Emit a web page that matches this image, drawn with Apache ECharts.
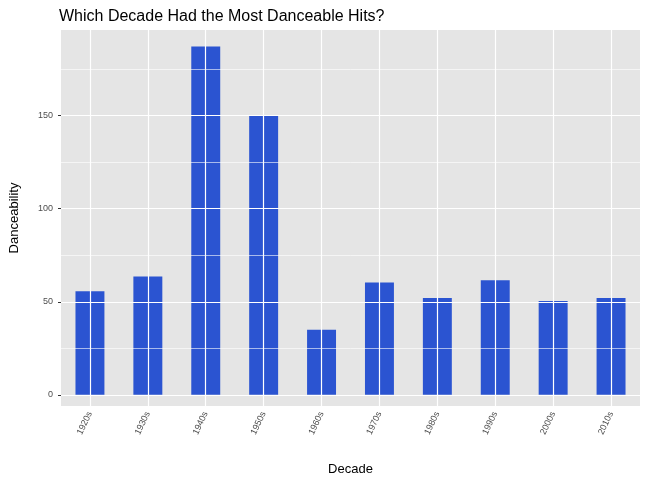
<!DOCTYPE html>
<html><head><meta charset="utf-8">
<script src="https://cdn.jsdelivr.net/npm/echarts@6/dist/echarts.min.js"></script>
<style>body{margin:0}#c{width:647px;height:481px}</style></head>
<body><div id="c"></div>
<script>
const categories=['1920s','1930s','1940s','1950s','1960s','1970s','1980s','1990s','2000s','2010s'];
const values=[55.7,63.6,187.2,150,35,60.4,52,61.5,50.4,52];
const majorTicks=[0,50,100,150];
const minorTicks=[25,75,125,175];
const ch=echarts.init(document.getElementById('c'));
const ls=(w)=>({color:'#fff',width:w,type:'solid'});
ch.setOption({
 animation:false,
 title:{text:'Which Decade Had the Most Danceable Hits?',left:54,top:4,textStyle:{fontSize:16,fontWeight:'normal',color:'#000',fontFamily:'Liberation Sans'}},
 grid:{left:60,right:7,top:30,bottom:71,show:true,backgroundColor:'#E5E5E5',borderWidth:0},
 xAxis:{type:'category',data:categories,boundaryGap:true,name:'Decade',nameLocation:'middle',nameGap:57,
  nameTextStyle:{fontSize:13,color:'#000',fontFamily:'Liberation Sans'},
  axisLine:{show:false},axisTick:{alignWithLabel:true,lineStyle:{color:'#333'},length:3},
  axisLabel:{rotate:65,fontSize:9,color:'#4d4d4d',margin:6,fontFamily:'Liberation Sans'},splitLine:{show:false}},
 yAxis:{type:'value',min:-6,max:196,name:'Danceability',nameLocation:'middle',nameGap:40,
  nameTextStyle:{fontSize:13,color:'#000',fontFamily:'Liberation Sans'},
  axisLine:{show:false},splitLine:{show:false},
  axisTick:{show:true,customValues:majorTicks,length:3,lineStyle:{color:'#333'}},
  axisLabel:{customValues:majorTicks,fontSize:9,color:'#4d4d4d',fontFamily:'Liberation Sans'}},
 series:[
  {type:'line',data:[],z:1,markLine:{silent:true,symbol:'none',label:{show:false},animation:false,
   data:[...majorTicks.map(v=>({yAxis:v,lineStyle:ls(1.2)})),
         ...minorTicks.map(v=>({yAxis:v,lineStyle:ls(0.6)})),
         ...categories.map(c=>({xAxis:c,lineStyle:ls(1.2)}))]}},
  {type:'bar',data:values,barWidth:'50%',z:3,itemStyle:{color:'#2B54D1'}}
 ]
});
</script></body></html>
